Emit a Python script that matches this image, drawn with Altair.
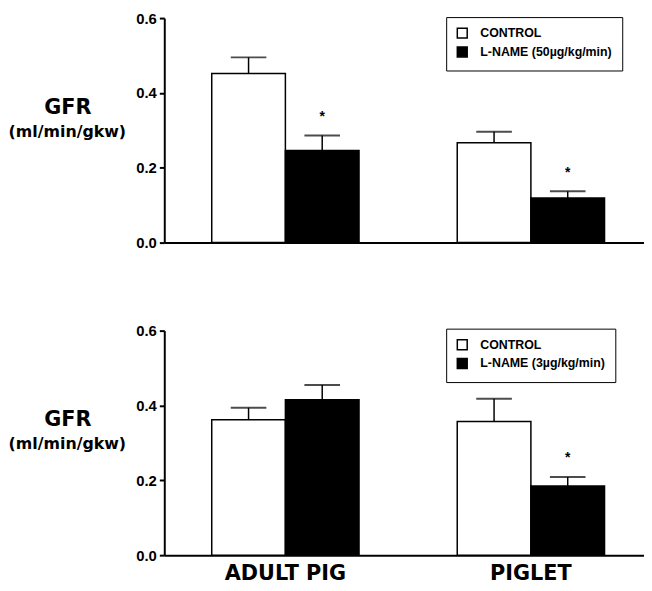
import altair as alt
import pandas as pd

groups = ["ADULT PIG", "PIGLET"]
treat_codes = ["C", "L"]

top_labels = ["CONTROL", "L-NAME (50µg/kg/min)"]
top_control = [0.452, 0.267]
top_control_err = [0.043, 0.029]
top_lname = [0.246, 0.119]
top_lname_err = [0.040, 0.018]
top_star = ["*", "*"]

bot_labels = ["CONTROL", "L-NAME (3µg/kg/min)"]
bot_control = [0.362, 0.357]
bot_control_err = [0.032, 0.061]
bot_lname = [0.415, 0.185]
bot_lname_err = [0.040, 0.024]
bot_star = ["", "*"]

y_title = "GFR"
y_units = "(ml/min/gkw)"
y_ticks = [0.0, 0.2, 0.4, 0.6]

FONT = "Liberation Sans"
WIDE = "DejaVu Sans"


def make_df(labels, ctrl, ctrl_err, lname, lname_err, star):
    rows = []
    for i, g in enumerate(groups):
        rows.append(dict(group=g, trt="C", label=labels[0], value=ctrl[i],
                         upper=ctrl[i] + ctrl_err[i], star=""))
        rows.append(dict(group=g, trt="L", label=labels[1], value=lname[i],
                         upper=lname[i] + lname_err[i], star=star[i]))
    return pd.DataFrame(rows)


def panel(df, labels, show_x_labels, legend_y):
    xscale = alt.Scale(domain=groups, paddingInner=0.4, paddingOuter=0.177, align=0.546)
    if show_x_labels:
        xaxis = alt.Axis(title=None, labels=True, ticks=False, labelFontSize=21,
                         labelFontWeight="bold", labelFont=WIDE, labelColor="black",
                         labelPadding=8, domainColor="black", domainWidth=2, labelAngle=0)
    else:
        xaxis = alt.Axis(title=None, labels=False, ticks=False,
                         domainColor="black", domainWidth=2)
    x = alt.X("group:N", scale=xscale, axis=xaxis)
    xo = alt.XOffset("trt:N", scale=alt.Scale(domain=treat_codes, paddingInner=0, paddingOuter=0))
    yaxis = alt.Axis(values=y_ticks, format=".1f", grid=False, title=y_title,
                     titleAngle=0, titleX=-98, titleY=90, titleAlign="center",
                     titleBaseline="middle", titleFontSize=21, titleFontWeight="bold",
                     titleFont=WIDE, titleColor="black",
                     labelFontSize=15, labelFontWeight="bold", labelFont=FONT,
                     labelColor="black", labelPadding=3, tickSize=5, tickWidth=2,
                     tickColor="black", domainColor="black", domainWidth=2)
    y = alt.Y("value:Q", scale=alt.Scale(domain=[0, 0.6], nice=False), axis=yaxis)

    base = alt.Chart(df)
    bars = base.mark_bar(stroke="black", strokeWidth=1.5).encode(
        x=x, xOffset=xo, y=y,
        fill=alt.Fill("label:N", title=None,
                      scale=alt.Scale(domain=labels, range=["white", "black"]),
                      legend=alt.Legend(orient="none", legendX=285, legendY=legend_y,
                                        symbolType="square", symbolSize=100,
                                        symbolStrokeColor="black", symbolStrokeWidth=1.5,
                                        labelFont=FONT, labelFontSize=12.5,
                                        labelFontWeight="bold", labelColor="black",
                                        labelOffset=12, rowPadding=2, padding=10,
                                        strokeColor="black", fillColor="white")),
    )
    rule = base.mark_rule(color="black", strokeWidth=1.5).encode(
        x=x, xOffset=xo, y="value:Q", y2="upper:Q")
    cap = base.mark_tick(color="black", thickness=2, size=36, orient="horizontal").encode(
        x=x, xOffset=xo, y="upper:Q")
    stars = base.mark_text(font=FONT, fontSize=14, fontWeight="bold", color="black",
                           baseline="alphabetic", dy=-15).encode(
        x=x, xOffset=xo, y="upper:Q", text="star:N")
    units = alt.Chart(pd.DataFrame({"t": [y_units]})).mark_text(
        font=WIDE, fontSize=16, fontWeight="bold", color="black",
        align="center", baseline="middle").encode(
        x=alt.value(-98), y=alt.value(115), text="t:N")
    return alt.layer(bars, rule, cap, stars, units).properties(width=485, height=227)


top = panel(make_df(top_labels, top_control, top_control_err, top_lname, top_lname_err, top_star),
            top_labels, False, -1)
bot = panel(make_df(bot_labels, bot_control, bot_control_err, bot_lname, bot_lname_err, bot_star),
            bot_labels, True, -2)

chart = alt.vconcat(top, bot, spacing=74).resolve_scale(
    fill="independent", xOffset="independent"
).resolve_legend(fill="independent").configure_view(stroke=None).properties(
    background="white", padding={"left": 0, "top": 0, "right": 0, "bottom": 0}
)

chart.save("out.html", embed_options={"renderer": "svg", "actions": False})
